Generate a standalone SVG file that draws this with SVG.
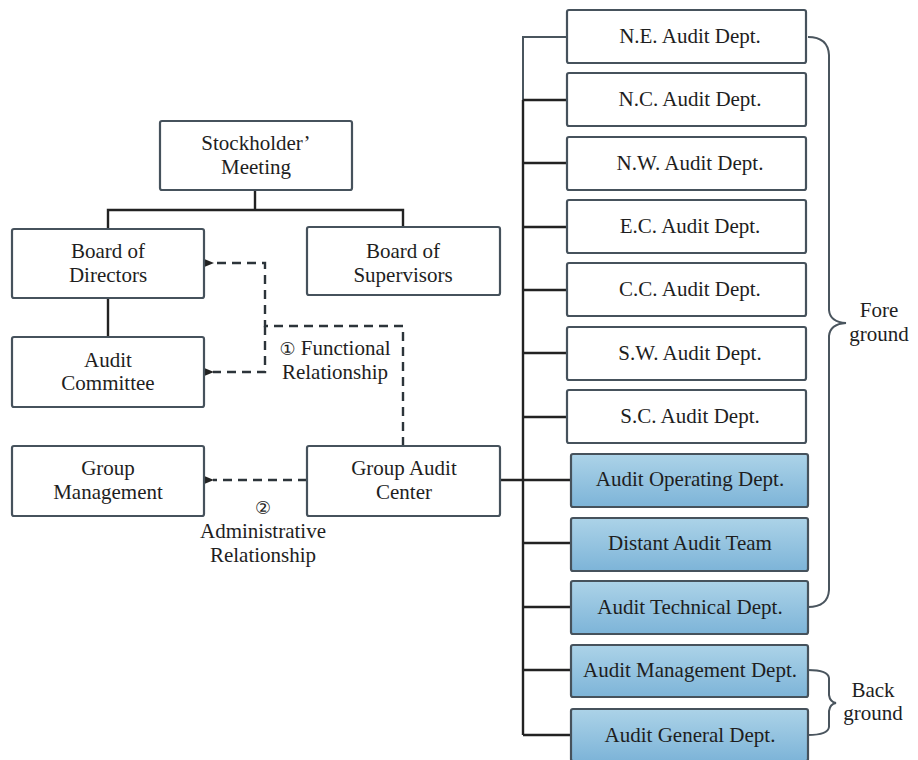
<svg xmlns="http://www.w3.org/2000/svg" width="918" height="760" viewBox="0 0 918 760">
<defs>
<linearGradient id="blue" x1="0" y1="0" x2="0" y2="1">
<stop offset="0" stop-color="#acd3e8"/>
<stop offset="1" stop-color="#7db4d8"/>
</linearGradient>
<marker id="arr" markerWidth="11" markerHeight="9" refX="1" refY="4.5" orient="auto" markerUnits="userSpaceOnUse">
<path d="M11,0 L0,4.5 L11,9 Z" fill="#222"/>
</marker>
<style>
.box{fill:#fff;stroke:#46525c;stroke-width:2.2}
.bbox{fill:url(#blue);stroke:#46525c;stroke-width:2.2}
text{font-family:'Liberation Serif','Times New Roman',serif;font-size:21px;fill:#1e1e1e;text-anchor:middle}
.circ{font-family:'DejaVu Sans','Noto Sans',sans-serif;font-weight:normal;font-size:18px}
.ln{fill:none;stroke:#222;stroke-width:2.4}
.gl{fill:none;stroke:#4a555e;stroke-width:2}
.dash{fill:none;stroke:#2c343a;stroke-width:2.4;stroke-dasharray:9,6}
</style>
</defs>
<rect width="918" height="760" fill="#fff"/>
<g id="connectors">
<path class="ln" d="M255,190 V210 M108,228 V210 H403 V227 M108,298 V337"/>
<path class="ln" d="M500,480 H523 M523,100 V735"/>
<path class="gl" d="M567,37 H523 V100"/>
<path class="ln" d="M523,100 H567 M523,163 H567 M523,227 H567 M523,290 H567 M523,353 H567 M523,417 H567 M523,480 H570 M523,543 H570 M523,607 H570 M523,670 H570 M523,735 H570"/>
<path class="dash" d="M403,446 V326 H265 V263 H213" marker-end="url(#arr)"/>
<path class="dash" d="M265,326 V372 H213" marker-end="url(#arr)"/>
<path class="dash" d="M307,480 H213" marker-end="url(#arr)"/>
<path class="gl" d="M808,37 Q828,37 829,55 V310 Q830,322 846,323 Q830,324 829,336 V590 Q828,607 808,607"/>
<path class="gl" d="M808,670 Q828,670 829,678 V695 Q830,702 836,703 Q830,704 829,711 V727 Q828,735 808,735"/>
</g>
<g id="stockholder"><rect class="box" x="160" y="121" width="192" height="69" rx="2"/><text x="256" y="150">Stockholder’</text><text x="256" y="174">Meeting</text></g>
<g id="board-directors"><rect class="box" x="12" y="229" width="192" height="69" rx="2"/><text x="108" y="258">Board of</text><text x="108" y="282">Directors</text></g>
<g id="board-supervisors"><rect class="box" x="307" y="227" width="193" height="68" rx="2"/><text x="403" y="258">Board of</text><text x="403" y="282">Supervisors</text></g>
<g id="audit-committee"><rect class="box" x="12" y="337" width="192" height="70" rx="2"/><text x="108" y="367">Audit</text><text x="108" y="390">Committee</text></g>
<g id="group-management"><rect class="box" x="12" y="446" width="192" height="70" rx="2"/><text x="108" y="475">Group</text><text x="108" y="499">Management</text></g>
<g id="group-audit-center"><rect class="box" x="307" y="446" width="193" height="70" rx="2"/><text x="404" y="475">Group Audit</text><text x="404" y="499">Center</text></g>
<g id="labels">
<text x="335" y="355"><tspan class="circ">①</tspan> Functional</text><text x="335" y="379">Relationship</text>
<text x="263" y="514" class="circ">②</text><text x="263" y="538">Administrative</text><text x="263" y="562">Relationship</text>
<text x="879" y="317">Fore</text><text x="879" y="341">ground</text>
<text x="873" y="697">Back</text><text x="873" y="720">ground</text>
</g>
<g id="ne"><rect class="box" x="567" y="10" width="239" height="53" rx="2"/><text x="690" y="43">N.E. Audit Dept.</text></g>
<g id="nc"><rect class="box" x="567" y="73" width="239" height="53" rx="2"/><text x="690" y="106">N.C. Audit Dept.</text></g>
<g id="nw"><rect class="box" x="567" y="137" width="239" height="53" rx="2"/><text x="690" y="170">N.W. Audit Dept.</text></g>
<g id="ec"><rect class="box" x="567" y="200" width="239" height="53" rx="2"/><text x="690" y="233">E.C. Audit Dept.</text></g>
<g id="cc"><rect class="box" x="567" y="263" width="239" height="53" rx="2"/><text x="690" y="296">C.C. Audit Dept.</text></g>
<g id="sw"><rect class="box" x="567" y="327" width="239" height="53" rx="2"/><text x="690" y="360">S.W. Audit Dept.</text></g>
<g id="sc"><rect class="box" x="567" y="390" width="239" height="53" rx="2"/><text x="690" y="423">S.C. Audit Dept.</text></g>
<g id="operating"><rect class="bbox" x="571" y="454" width="237" height="53" rx="2"/><text x="690" y="486">Audit Operating Dept.</text></g>
<g id="distant"><rect class="bbox" x="571" y="518" width="237" height="53" rx="2"/><text x="690" y="550">Distant Audit Team</text></g>
<g id="technical"><rect class="bbox" x="571" y="581" width="237" height="53" rx="2"/><text x="690" y="614">Audit Technical Dept.</text></g>
<g id="management"><rect class="bbox" x="571" y="645" width="237" height="52" rx="2"/><text x="690" y="677">Audit Management Dept.</text></g>
<g id="general"><rect class="bbox" x="571" y="709" width="237" height="52" rx="2"/><text x="690" y="742">Audit General Dept.</text></g>
</svg>
